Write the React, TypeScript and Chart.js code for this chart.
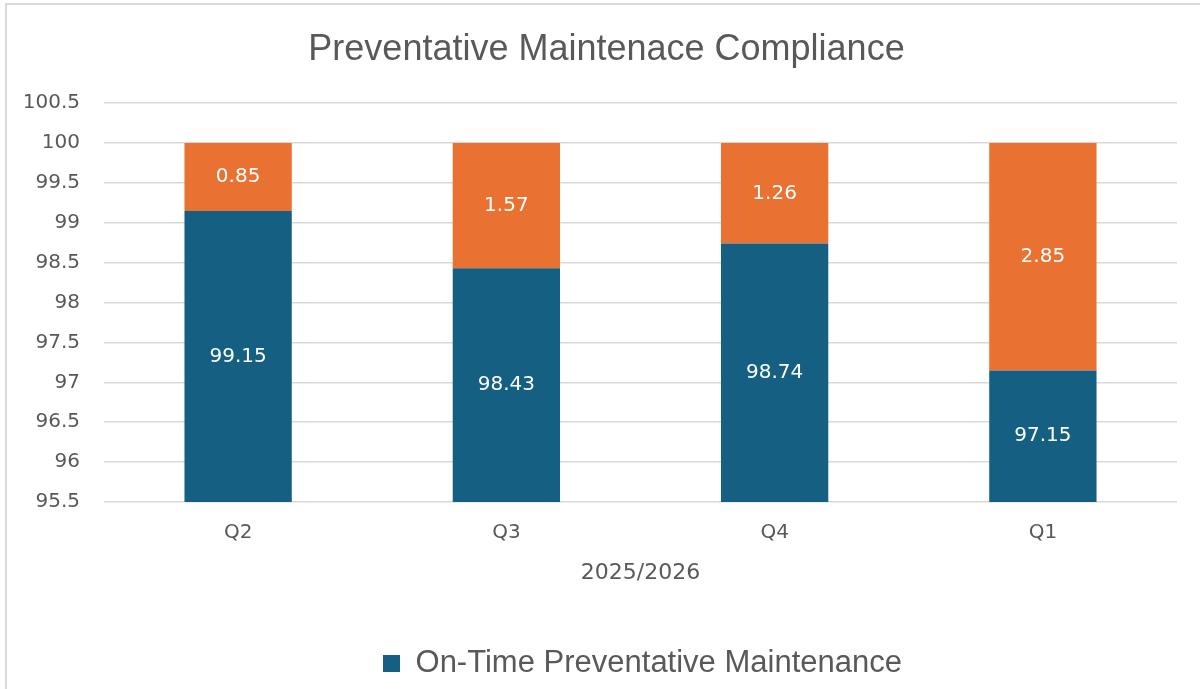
import React, { useEffect, useRef } from "react";
import { Chart, registerables } from "chart.js";

Chart.register(...registerables);

const categories = ["Q2", "Q3", "Q4", "Q1"];
const onTimeValues = [99.15, 98.43, 98.74, 97.15];
const lateValues = [0.85, 1.57, 1.26, 2.85];
const seriesNames = ["On-Time Preventative Maintenance", "Late Preventative Maintenance"];
const chartTitle = "Preventative Maintenace Compliance";
const xAxisTitle = "2025/2026";
const yMin = 95.5;
const yMax = 100.5;
const yStep = 0.5;

const FONT = "'Liberation Sans', Arial, sans-serif";
const NUMFONT = "'DejaVu Sans', sans-serif";
const TEXT = "#595959";
const BLUE = "#156082";
const ORANGE = "#E97132";
const GRID = "#D9D9D9";

const barLabels = {
  id: "barLabels",
  afterDatasetsDraw(chart: any) {
    const { ctx, chartArea } = chart;
    ctx.save();
    ctx.font = `20px ${NUMFONT}`;
    ctx.fillStyle = "#FFFFFF";
    ctx.textAlign = "center";
    ctx.textBaseline = "middle";
    chart.data.datasets.forEach((ds: any, i: number) => {
      const meta = chart.getDatasetMeta(i);
      meta.data.forEach((el: any, j: number) => {
        const top = Math.max(Math.min(el.y, el.base), chartArea.top);
        const bottom = Math.min(Math.max(el.y, el.base), chartArea.bottom);
        ctx.fillText(String(ds.data[j]), el.x, (top + bottom) / 2);
      });
    });
    ctx.restore();
  },
};

const boxShift = {
  id: "boxShift",
  afterLayout(chart: any) {
    if (chart.legend) {
      chart.legend.left += 54;
      chart.legend.right += 54;
    }
    if (chart.titleBlock) {
      chart.titleBlock.left += 18;
      chart.titleBlock.right += 18;
    }
  },
};

export default function App() {
  const ref = useRef<HTMLCanvasElement | null>(null);

  useEffect(() => {
    if (!ref.current) return;
    const chart = new Chart(ref.current, {
      type: "bar",
      data: {
        labels: categories,
        datasets: [
          {
            label: seriesNames[0],
            data: onTimeValues,
            backgroundColor: BLUE,
            barPercentage: 0.4,
            categoryPercentage: 1,
          },
          {
            label: seriesNames[1],
            data: lateValues,
            backgroundColor: ORANGE,
            barPercentage: 0.4,
            categoryPercentage: 1,
          },
        ],
      },
      options: {
        responsive: false,
        animation: false,
        layout: { padding: { left: 0, right: 23, top: 0, bottom: 0 } },
        plugins: {
          title: {
            display: true,
            text: chartTitle,
            color: TEXT,
            font: { family: FONT, size: 36, weight: "normal" },
            padding: { top: 28, bottom: 32 },
          },
          legend: {
            position: "bottom",
            labels: {
              filter: (item: any) => item.datasetIndex === 0,
              boxWidth: 17,
              boxHeight: 17,
              color: TEXT,
              font: { family: FONT, size: 31 },
              padding: 10,
            },
          },
          tooltip: { enabled: false },
        },
        scales: {
          x: {
            stacked: true,
            grid: { display: false, drawTicks: false },
            border: { display: false },
            ticks: { color: TEXT, font: { family: NUMFONT, size: 20 }, padding: 19 },
            title: {
              display: true,
              text: xAxisTitle,
              color: TEXT,
              font: { family: NUMFONT, size: 22 },
              padding: { top: 0, bottom: 52 },
            },
            afterFit: (scale: any) => {
              scale.height = 136;
            },
          },
          y: {
            stacked: true,
            min: yMin,
            max: yMax,
            grid: { color: GRID, lineWidth: 1.5, drawTicks: false },
            border: { display: false },
            ticks: {
              stepSize: yStep,
              color: TEXT,
              font: { family: NUMFONT, size: 20 },
              padding: 24,
              callback: (v: any) => String(Number(v)),
            },
            afterFit: (scale: any) => {
              scale.width = 104;
            },
          },
        },
      },
      plugins: [barLabels, boxShift],
    });
    return () => chart.destroy();
  }, []);

  return (
    <div
      style={{
        position: "fixed",
        left: 0,
        top: 0,
        width: 1200,
        height: 689,
        background: "#FFFFFF",
        overflow: "hidden",
      }}
    >
      <canvas ref={ref} width={1200} height={689} style={{ display: "block" }} />
      <div
        style={{
          position: "absolute",
          left: 5,
          top: 3,
          width: 1300,
          height: 800,
          border: `2px solid ${GRID}`,
          boxSizing: "border-box",
          pointerEvents: "none",
        }}
      />
    </div>
  );
}
